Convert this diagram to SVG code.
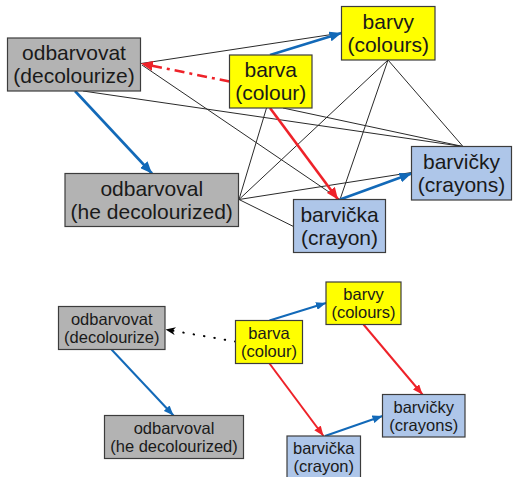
<svg xmlns="http://www.w3.org/2000/svg" width="513" height="477" viewBox="0 0 513 477">
<style>
  .box { stroke: #3c3c3c; stroke-width: 1.2; }
  .gray { fill: #b3b3b3; }
  .yel { fill: #ffff00; }
  .blu { fill: #aec6e9; }
  .t1 { font-family: "Liberation Sans", Arial, sans-serif; font-size: 21px; fill: #1a1a1a; text-anchor: middle; }
  .t2 { font-family: "Liberation Sans", Arial, sans-serif; font-size: 16.5px; fill: #1a1a1a; text-anchor: middle; }
  .thin { stroke: #2a2a2a; stroke-width: 1; fill: none; }
  .bl { stroke: #1269b8; stroke-width: 2.6; fill: none; }
  .rd { stroke: #ee2229; stroke-width: 2.6; fill: none; }
  .bl2 { stroke: #1269b8; stroke-width: 2; fill: none; }
  .rd2 { stroke: #ee2229; stroke-width: 2; fill: none; }
</style>
<defs>
  <marker id="ab" markerUnits="userSpaceOnUse" markerWidth="12" markerHeight="10" refX="12" refY="5" orient="auto">
    <path d="M0,0 L12,5 L0,10 z" fill="#1269b8"/>
  </marker>
  <marker id="ar" markerUnits="userSpaceOnUse" markerWidth="12" markerHeight="10" refX="12" refY="5" orient="auto">
    <path d="M0,0 L12,5 L0,10 z" fill="#ee2229"/>
  </marker>
  <marker id="ab2" markerUnits="userSpaceOnUse" markerWidth="10" markerHeight="8" refX="10" refY="4" orient="auto">
    <path d="M0,0 L10,4 L0,8 z" fill="#1269b8"/>
  </marker>
  <marker id="ar2" markerUnits="userSpaceOnUse" markerWidth="10" markerHeight="8" refX="10" refY="4" orient="auto">
    <path d="M0,0 L10,4 L0,8 z" fill="#ee2229"/>
  </marker>
  <marker id="ak" markerUnits="userSpaceOnUse" markerWidth="10" markerHeight="8" refX="10" refY="4" orient="auto">
    <path d="M0,0 L10,4 L0,8 L3,4 z" fill="#000"/>
  </marker>
</defs>
<g id="connectors">
  <line class="thin" x1="141" y1="63.5" x2="341.5" y2="33"/>
  <line class="thin" x1="142" y1="65" x2="340" y2="199.5"/>
  <line class="thin" x1="83" y1="91" x2="463" y2="146.5"/>
  <line class="thin" x1="266.5" y1="108" x2="239" y2="199.5"/>
  <line class="thin" x1="283" y1="108" x2="463" y2="146.5"/>
  <line class="thin" x1="388" y1="60" x2="239" y2="199.5"/>
  <line class="thin" x1="388" y1="60" x2="340" y2="199.5"/>
  <line class="thin" x1="388" y1="60" x2="463" y2="146.5"/>
  <line class="thin" x1="239" y1="199.5" x2="411.5" y2="172.5"/>
  <line class="thin" x1="239" y1="199.5" x2="293.5" y2="226.5"/>
  <line class="bl" x1="75" y1="91" x2="152" y2="173.5" marker-end="url(#ab)"/>
  <line class="bl" x1="270" y1="55" x2="341.5" y2="33" marker-end="url(#ab)"/>
  <line class="rd" x1="270" y1="108" x2="338" y2="199.5" marker-end="url(#ar)"/>
  <line class="bl" x1="340" y1="199.5" x2="411.5" y2="173.5" marker-end="url(#ab)"/>
  <line class="rd" x1="229.5" y1="81.5" x2="141" y2="63.5" stroke-dasharray="10 5 3 5" marker-end="url(#ar)"/>
  <line class="bl2" x1="111.5" y1="349.5" x2="173.5" y2="415.5" marker-end="url(#ab2)"/>
  <line x1="235.5" y1="341.5" x2="165.5" y2="329.5" stroke="#000" stroke-width="2" stroke-linecap="round" stroke-dasharray="0.5 10" marker-end="url(#ak)"/>
  <line class="bl2" x1="269.5" y1="320.5" x2="326" y2="303" marker-end="url(#ab2)"/>
  <line class="rd2" x1="269.5" y1="363.5" x2="323.5" y2="436" marker-end="url(#ar2)"/>
  <line class="rd2" x1="363.5" y1="324.5" x2="422.5" y2="394.5" marker-end="url(#ar2)"/>
  <line class="bl2" x1="325" y1="436" x2="382.5" y2="416" marker-end="url(#ab2)"/>
</g>
<g id="odbarvovat">
  <rect class="box gray" x="7.5" y="38" width="133" height="53"/>
  <text class="t1" x="74" y="60">odbarvovat</text>
  <text class="t1" x="74" y="83">(decolourize)</text>
</g>
<g id="barva">
  <rect class="box yel" x="229.5" y="55" width="82.5" height="53"/>
  <text class="t1" x="270.75" y="77">barva</text>
  <text class="t1" x="270.75" y="100">(colour)</text>
</g>
<g id="barvy">
  <rect class="box yel" x="341.5" y="6.5" width="93.5" height="53.5"/>
  <text class="t1" x="388.25" y="28.5">barvy</text>
  <text class="t1" x="388.25" y="51.5">(colours)</text>
</g>
<g id="barvicky">
  <rect class="box blu" x="411.5" y="146.5" width="100" height="53.5"/>
  <text class="t1" x="461.5" y="168.5">barvičky</text>
  <text class="t1" x="461.5" y="191.5">(crayons)</text>
</g>
<g id="barvicka">
  <rect class="box blu" x="293.5" y="199.5" width="92" height="53"/>
  <text class="t1" x="339.5" y="221.5">barvička</text>
  <text class="t1" x="339.5" y="244.5">(crayon)</text>
</g>
<g id="odbarvoval">
  <rect class="box gray" x="65" y="173.5" width="173.5" height="53"/>
  <text class="t1" x="151.75" y="195.5">odbarvoval</text>
  <text class="t1" x="151.75" y="218.5">(he decolourized)</text>
</g>
<g id="odbarvovat-2">
  <rect class="box gray" x="58.5" y="306.5" width="106.5" height="43"/>
  <text class="t2" x="111.75" y="325">odbarvovat</text>
  <text class="t2" x="111.75" y="342.5">(decolourize)</text>
</g>
<g id="odbarvoval-2">
  <rect class="box gray" x="104.5" y="415.5" width="139" height="43"/>
  <text class="t2" x="174" y="433.5">odbarvoval</text>
  <text class="t2" x="174" y="451.5">(he decolourized)</text>
</g>
<g id="barva-2">
  <rect class="box yel" x="235.5" y="320.5" width="67" height="43"/>
  <text class="t2" x="269" y="338.5">barva</text>
  <text class="t2" x="269" y="356.5">(colour)</text>
</g>
<g id="barvy-2">
  <rect class="box yel" x="326" y="282" width="75" height="42.5"/>
  <text class="t2" x="363.5" y="300">barvy</text>
  <text class="t2" x="363.5" y="318">(colours)</text>
</g>
<g id="barvicky-2">
  <rect class="box blu" x="382.5" y="394.5" width="82.5" height="42.5"/>
  <text class="t2" x="423.75" y="412.5">barvičky</text>
  <text class="t2" x="423.75" y="430.5">(crayons)</text>
</g>
<g id="barvicka-2">
  <rect class="box blu" x="287" y="436" width="73.5" height="43"/>
  <text class="t2" x="323.75" y="454">barvička</text>
  <text class="t2" x="323.75" y="472">(crayon)</text>
</g>
</svg>
